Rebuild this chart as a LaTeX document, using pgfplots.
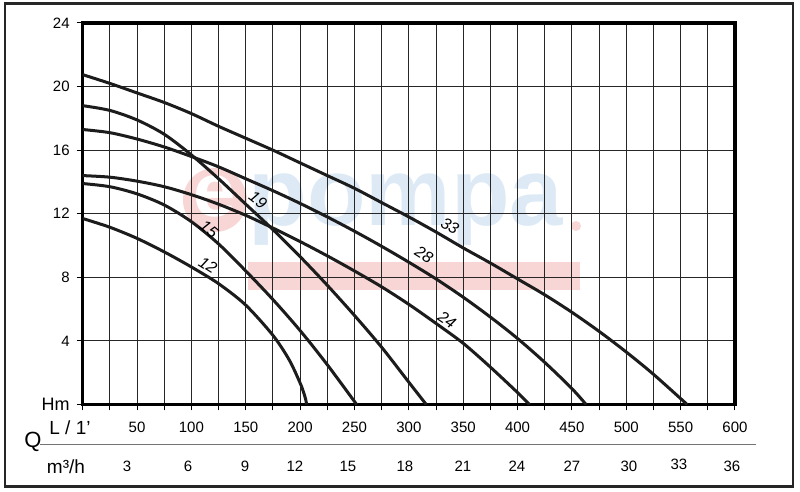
\documentclass[border=0pt]{standalone}
\usepackage{pgfplots}
\pgfplotsset{compat=1.18}
\usepackage{fontspec}
\setmainfont{Liberation Sans}
\definecolor{curve}{HTML}{1C1C1C}
\definecolor{wmblue}{HTML}{DDEAF6}
\definecolor{wmred}{HTML}{F8D6D6}
\begin{document}
\begin{tikzpicture}
\begin{scope}[shift={(-41.35pt,202.25pt)}, x=0.5pt, y=-0.5pt]
  \useasboundingbox (0,0) rectangle (800,492);
  % watermark
  \fill[wmred] (215,200) circle (32);
  \node[text=white, font=\fontsize{38}{38}\selectfont\bfseries] at (215,196) {e};
  \node[anchor=base west, text=wmblue, font=\fontsize{48}{48}\selectfont\bfseries, inner sep=0] at (248,226) {pompa};
  \fill[wmred] (576,226) circle (5);
  \fill[wmred] (248,262) rectangle (580,290);
\end{scope}
\begin{axis}[at={(0,0)}, anchor=south west, scale only axis,
  width=326.15pt, height=190.75pt,
  xmin=0, xmax=600, ymin=0, ymax=24,
  xtick={0,50,...,600}, minor xtick={25,75,...,575},
  xticklabels={,50,100,150,200,250,300,350,400,450,500,550,600},
  ytick={0,4,...,24}, yticklabels={{\fontsize{9}{10}\selectfont Hm},4,8,12,16,20,24},
  tick pos=left, tick align=outside,
  major tick length=3pt, minor tick length=3pt,
  tick style={black, line width=0.5pt},
  grid=both,
  major grid style={black!85, line width=0.5pt},
  minor grid style={black!85, line width=0.5pt},
  axis line style={line width=1.65pt, black},
  ticklabel style={font=\fontsize{7.5}{9}\selectfont},
  xticklabel style={yshift=-2pt},
  /pgf/number format/assume math mode=true,
  pc/.style={curve, line width=1.5pt, smooth, no marks},
]
% 12
\addplot[pc] coordinates {(0,11.7)(25,11.15)(50,10.45)(75,9.6)(100,8.65)(125,7.6)(150,6.25)(175,4.35)(190,2.8)(200,1.35)(203,0.8)(205,0.35)(206,0)};
% 15
\addplot[pc] coordinates {(0,13.9)(25,13.7)(50,13.25)(75,12.55)(100,11.5)(125,10.1)(150,8.4)(175,6.6)(200,4.65)(225,2.5)(252,0)};
% 19
\addplot[pc] coordinates {(0,18.8)(25,18.5)(50,17.9)(75,17.0)(100,15.7)(125,14.2)(150,12.6)(175,11.0)(200,9.3)(225,7.5)(250,5.6)(275,3.6)(300,1.4)(316,0)};
% 24
\addplot[pc] coordinates {(0,14.4)(25,14.3)(50,14.05)(75,13.7)(100,13.2)(125,12.6)(150,11.9)(175,11.1)(200,10.25)(225,9.35)(250,8.4)(275,7.4)(300,6.3)(325,5.1)(350,3.85)(375,2.35)(400,0.75)(411,0)};
% 28
\addplot[pc] coordinates {(0,17.3)(25,17.1)(50,16.7)(75,16.2)(100,15.6)(125,14.95)(150,14.2)(175,13.45)(200,12.65)(225,11.8)(250,10.9)(275,9.95)(300,8.95)(325,7.9)(350,6.75)(375,5.5)(400,4.15)(425,2.65)(450,1.0)(463,0)};
% 33
\addplot[pc] coordinates {(0,20.75)(25,20.2)(50,19.6)(75,19.0)(100,18.3)(125,17.5)(150,16.75)(175,16.0)(200,15.2)(225,14.4)(250,13.6)(275,12.7)(300,11.8)(325,10.85)(350,9.85)(375,8.9)(400,7.9)(425,6.9)(450,5.8)(475,4.6)(500,3.3)(525,1.9)(556,0)};
\end{axis}
\begin{scope}[shift={(-41.35pt,202.25pt)}, x=0.5pt, y=-0.5pt]
  \tikzset{cl/.style={font=\fontsize{8}{9}\selectfont\itshape, inner sep=0}}
  \node[cl, rotate=-32] at (208,265) {12};
  \node[cl, rotate=-40] at (209,229) {15};
  \node[cl, rotate=-38] at (258,200) {19};
  \node[cl, rotate=-30] at (450,226) {33};
  \node[cl, rotate=-32] at (424,255) {28};
  \node[cl, rotate=-34] at (447,320) {24};
  % Q row
  \draw[black!55, line width=0.6pt] (40,444.5) -- (756,444.5);
  \node[font=\fontsize{11}{12}\selectfont] at (33,442) {Q};
  \node[font=\fontsize{9.5}{11}\selectfont] at (70,428) {L / 1'};
  \node[font=\fontsize{9.5}{11}\selectfont] at (66,467) {m³/h};
  \tikzset{ml/.style={font=\fontsize{7.5}{9}\selectfont}}
  \node[ml] at (127,466) {3};
  \node[ml] at (188,466) {6};
  \node[ml] at (245,466) {9};
  \node[ml] at (295,466) {12};
  \node[ml] at (348,466) {15};
  \node[ml] at (405,466) {18};
  \node[ml] at (463,466) {21};
  \node[ml] at (517,466) {24};
  \node[ml] at (572,466) {27};
  \node[ml] at (629,466) {30};
  \node[ml] at (679,464) {33};
  \node[ml] at (732,466) {36};
  % border
  \draw[black!85, line width=1.4pt] (5,3.5) rectangle (793,486.5);
\end{scope}
\end{tikzpicture}
\end{document}
